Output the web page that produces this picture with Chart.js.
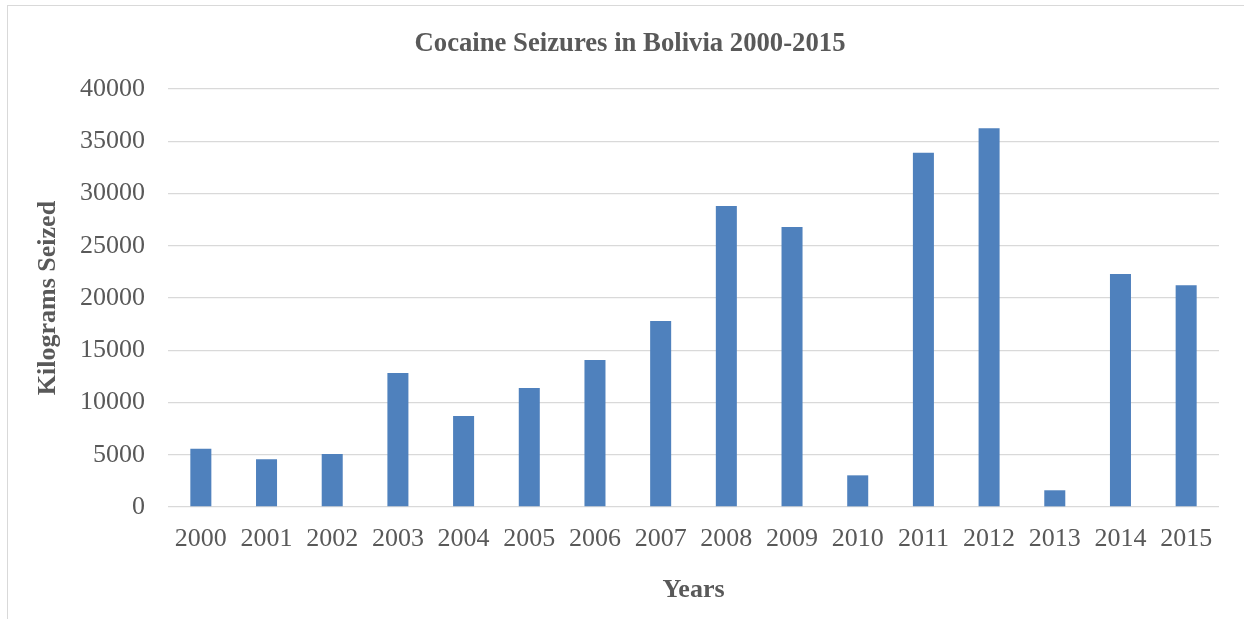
<!DOCTYPE html>
<html>
<head>
<meta charset="utf-8">
<title>Cocaine Seizures in Bolivia 2000-2015</title>
<script src="https://cdn.jsdelivr.net/npm/chart.js@4.4.1/dist/chart.umd.min.js"></script>
<style>
  html, body { margin: 0; padding: 0; background: #fff; }
  #wrap { position: relative; width: 1244px; height: 619px; overflow: hidden; }
  #frame {
    position: absolute; left: 7px; top: 5px; width: 1300px; height: 700px;
    border-left: 1px solid #d9d9d9; border-top: 1px solid #d9d9d9;
  }
  #chart { position: absolute; left: 0; top: 0; }
</style>
</head>
<body>
<div id="wrap">
  <div id="frame"></div>
  <canvas id="chart" width="1244" height="619"></canvas>
</div>
<script>
// data
const years = ["2000", "2001", "2002", "2003", "2004", "2005", "2006", "2007",
               "2008", "2009", "2010", "2011", "2012", "2013", "2014", "2015"];
const kilogramsSeized = [5570, 4570, 5080, 12820, 8700, 11390, 14070, 17800,
                         28800, 26800, 3030, 33900, 36250, 1600, 22300, 21220];
const yTicks = [0, 5000, 10000, 15000, 20000, 25000, 30000, 35000, 40000];

const serif = "'Liberation Serif', 'Times New Roman', serif";
const textGray = "#595959";
const gridGray = "#d9d9d9";

window.addEventListener("load", function () {
  const ctx = document.getElementById("chart");

  new Chart(ctx, {
    type: "bar",
    data: {
      labels: years,
      datasets: [
        {
          label: "Kilograms Seized",
          data: kilogramsSeized,
          backgroundColor: "#4f81bd",
          borderWidth: 0,
          barPercentage: 0.32,
          categoryPercentage: 1,
        },
      ],
    },
    options: {
      responsive: false,
      animation: false,
      // left padding shifts the (full width) title to where the original has it
      layout: { padding: { left: 41, right: 25, top: 0, bottom: 0 } },
      plugins: {
        legend: { display: false },
        tooltip: { enabled: false },
        title: {
          display: true,
          text: "Cocaine Seizures in Bolivia 2000-2015",
          color: textGray,
          font: { family: serif, size: 26.7, weight: "bold" },
          padding: { top: 28, bottom: 29 },
        },
      },
      scales: {
        x: {
          grid: { display: false },
          border: { display: false },
          ticks: {
            color: textGray,
            font: { family: serif, size: 26 },
            padding: 9,
            maxRotation: 0,
            autoSkip: false,
          },
          title: {
            display: true,
            text: "Years",
            color: textGray,
            font: { family: serif, size: 26, weight: "bold" },
            padding: { top: 0, bottom: 13 },
          },
          afterFit: function (scale) { scale.height = 112; },
        },
        y: {
          min: 0,
          max: 40000,
          afterBuildTicks: function (scale) {
            scale.ticks = yTicks.map((v) => ({ value: v }));
          },
          grid: { color: gridGray, lineWidth: 1.3, drawTicks: false },
          border: { display: false },
          ticks: {
            color: textGray,
            font: { family: serif, size: 26 },
            padding: 23,
            callback: (v) => String(v),
          },
          title: {
            display: true,
            text: "Kilograms Seized",
            color: textGray,
            font: { family: serif, size: 26, weight: "bold" },
            padding: { top: -8.6, bottom: 0 },
          },
          afterFit: function (scale) { scale.width = 127; },
        },
      },
    },
  });
});
</script>
</body>
</html>
